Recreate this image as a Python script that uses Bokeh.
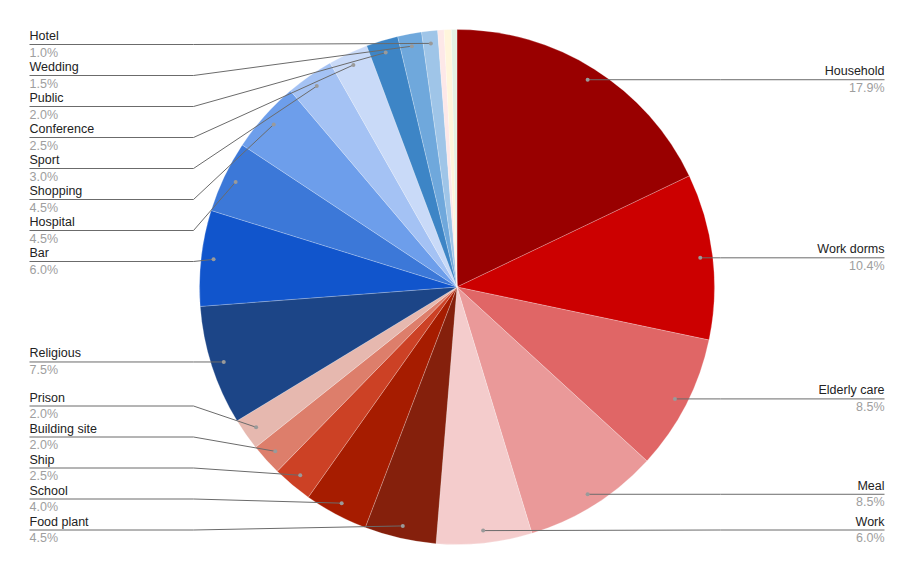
import math
from bokeh.plotting import figure
from bokeh.models import Range1d, ColumnDataSource
from bokeh.embed import file_html
from bokeh.resources import INLINE
from bokeh.core.properties import value

# ---- data (clockwise from 12 o'clock) ----
categories = ["Household", "Work dorms", "Elderly care", "Meal", "Work",
              "Food plant", "School", "Ship", "Building site", "Prison",
              "Religious", "Bar", "Hospital", "Shopping", "Sport",
              "Conference", "Public", "Wedding", "Hotel", "", "", ""]
shares = [17.9, 10.4, 8.5, 8.5, 6.0,
          4.5, 4.0, 2.5, 2.0, 2.0,
          7.5, 6.0, 4.5, 4.5, 3.0,
          2.5, 2.0, 1.5, 1.0, 0.4, 0.45, 0.35]
colors = ["#990000", "#cc0000", "#e06666", "#ea9999", "#f4cccc",
          "#85200c", "#a61c00", "#cc4125", "#dd7e6b", "#e6b8af",
          "#1c4587", "#1155cc", "#3c78d8", "#6d9eeb", "#a4c2f4",
          "#c9daf8", "#3d85c6", "#6fa8dc", "#9fc5e8", "#fde8e8",
          "#fff5dc", "#e4f1e4"]

# ---- layout (page pixel coordinates) ----
W, H = 897, 558
OFF = 0  # page offset of the plot canvas
CX, CY, R = 456.5, 286.5, 257.5
DOT_R = R - 12.5
LEFT_X, LEFT_ELBOW = 29, 193
RIGHT_X, RIGHT_ELBOW = 884, 720
GAP, YMIN, YMAX = 31, 44, 529.5
MIN_LABEL = 1.0
FONT = "Liberation Sans"
FSIZE = "12.5px"
NAME_DY, PCT_DY = -8.5, 8.0

total = sum(shares)
starts, ends, mids = [], [], []
cum = 0.0
for v in shares:
    a0 = cum / total * 2 * math.pi
    cum += v
    a1 = cum / total * 2 * math.pi
    starts.append(math.pi / 2 - a0)
    ends.append(math.pi / 2 - a1)
    mids.append((a0 + a1) / 2)

p = figure(width=W, height=H, x_range=Range1d(OFF, OFF + W), y_range=Range1d(-(OFF + H), -OFF),
           output_backend="svg", toolbar_location=None, min_border=0,
           x_axis_type=None, y_axis_type=None)
p.grid.visible = False
p.outline_line_color = None
p.background_fill_color = "white"

src = ColumnDataSource(dict(start=starts, end=ends, color=colors))
p.wedge(x=CX, y=-CY, radius=R, start_angle="start", end_angle="end", direction="clock",
        fill_color="color", line_color="white", line_width=0.5, line_alpha=0.45, source=src)

# labels
items = []
for i, (name, v, m) in enumerate(zip(categories, shares, mids)):
    if v < MIN_LABEL:
        continue
    dx = CX + DOT_R * math.sin(m)
    dy = CY - DOT_R * math.cos(m)
    side = "right" if m < math.pi else "left"
    items.append(dict(name=name, pct=f"{v / total * 100:.1f}%", dx=dx, dy=dy, side=side))

def spread(group):
    group.sort(key=lambda d: d["dy"])
    prev = None
    for d in group:
        y = max(d["dy"], YMIN)
        if prev is not None:
            y = max(y, prev + GAP)
        d["ly"] = y
        prev = y
    nxt = None
    for d in reversed(group):
        y = min(d["ly"], YMAX)
        if nxt is not None:
            y = min(y, nxt - GAP)
        d["ly"] = y
        nxt = y

left = [d for d in items if d["side"] == "left"]
right = [d for d in items if d["side"] == "right"]
spread(left)
spread(right)

xs, ys = [], []
for d in left:
    xs.append([LEFT_X, LEFT_ELBOW, d["dx"]])
    ys.append([-d["ly"], -d["ly"], -d["dy"]])
for d in right:
    xs.append([RIGHT_X, RIGHT_ELBOW, d["dx"]])
    ys.append([-d["ly"], -d["ly"], -d["dy"]])
p.multi_line(xs=xs, ys=ys, line_color="#6b6b6b", line_width=1)

p.circle(x=[d["dx"] for d in items], y=[-d["dy"] for d in items], radius=2,
         fill_color="#9a9a9a", line_color=None)

for group, x, align in ((left, LEFT_X, "left"), (right, RIGHT_X, "right")):
    p.text(x=[x] * len(group), y=[-(d["ly"] + NAME_DY) for d in group], text=[d["name"] for d in group],
           text_font=value(FONT), text_font_size=value(FSIZE), text_color="#222222",
           text_align=align, text_baseline="alphabetic")
    p.text(x=[x] * len(group), y=[-(d["ly"] + PCT_DY) for d in group], text=[d["pct"] for d in group],
           text_font=value(FONT), text_font_size=value(FSIZE), text_color="#9e9e9e",
           text_align=align, text_baseline="alphabetic")

open("out.html", "w").write(file_html(p, INLINE))
